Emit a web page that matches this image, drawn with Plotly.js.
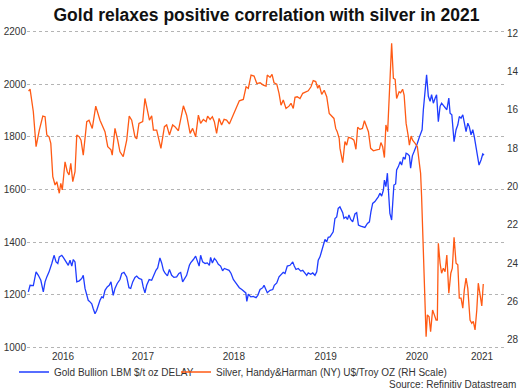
<!DOCTYPE html>
<html>
<head>
<meta charset="utf-8">
<script src="https://cdn.plot.ly/plotly-3.0.1.min.js"></script>
<style>html,body{margin:0;padding:0;background:#fff;}#chart{width:524px;height:392px;}</style>
</head>
<body>
<div id="chart"></div>
<script>
// Gold Bullion LBM $/t oz (left axis)
const goldDates = [
"2016-03-20","2016-03-27","2016-04-09","2016-04-20","2016-04-29","2016-05-09","2016-05-19","2016-05-26","2016-06-02","2016-06-11",
"2016-06-22","2016-07-01","2016-07-09","2016-07-16","2016-07-22","2016-08-01","2016-08-07","2016-08-14","2016-08-21","2016-08-27",
"2016-09-03","2016-09-10","2016-09-16","2016-09-23","2016-09-30","2016-10-10","2016-10-20","2016-10-26","2016-11-02","2016-11-09",
"2016-11-15","2016-11-22","2016-11-29","2016-12-05","2016-12-12","2016-12-19","2016-12-25",
"2017-01-01","2017-01-08","2017-01-14","2017-01-21","2017-01-30","2017-02-07","2017-02-14","2017-02-23","2017-03-02","2017-03-11",
"2017-03-22","2017-03-29","2017-04-07","2017-04-18","2017-04-27","2017-05-04","2017-05-12","2017-05-21","2017-05-28","2017-06-06",
"2017-06-17","2017-06-23","2017-06-30","2017-07-07","2017-07-17","2017-07-27","2017-08-03","2017-08-13","2017-08-20","2017-08-29",
"2017-09-05","2017-09-12","2017-09-18","2017-09-28","2017-10-06","2017-10-15","2017-10-24","2017-11-04","2017-11-13","2017-11-20",
"2017-11-28","2017-12-08","2017-12-14","2017-12-25","2017-12-30",
"2018-01-10","2018-01-19","2018-01-27","2018-02-02","2018-02-08","2018-02-16","2018-02-26","2018-03-07","2018-03-15","2018-03-20",
"2018-03-27","2018-04-04","2018-04-11","2018-04-20","2018-04-29","2018-05-07","2018-05-14","2018-05-23","2018-06-02","2018-06-10",
"2018-06-19","2018-06-26","2018-07-05","2018-07-13","2018-07-23","2018-08-01","2018-08-08","2018-08-12","2018-08-18","2018-08-28",
"2018-09-07","2018-09-18","2018-09-25","2018-10-04","2018-10-15","2018-10-20","2018-10-28","2018-11-02","2018-11-13","2018-11-24",
"2018-11-30","2018-12-10","2018-12-19","2018-12-27",
"2019-01-05","2019-01-12","2019-01-21","2019-02-01","2019-02-12","2019-02-18","2019-02-25","2019-03-06","2019-03-16","2019-03-24",
"2019-03-30","2019-04-09","2019-04-15","2019-04-25","2019-05-03","2019-05-12","2019-05-19","2019-05-25","2019-06-01","2019-06-08",
"2019-06-14","2019-06-21","2019-06-28","2019-07-04","2019-07-11","2019-07-18","2019-07-24","2019-07-31","2019-08-07","2019-08-13",
"2019-08-20","2019-08-31","2019-09-05","2019-09-13","2019-09-19","2019-09-25","2019-10-02","2019-10-10","2019-10-19","2019-10-26",
"2019-11-02","2019-11-11","2019-11-19","2019-11-28","2019-12-08","2019-12-16","2019-12-22","2019-12-29",
"2020-01-07","2020-01-14","2020-01-21","2020-01-27","2020-02-03","2020-02-10","2020-02-14","2020-02-20","2020-02-26","2020-03-01",
"2020-03-07","2020-03-14","2020-03-18","2020-03-23","2020-03-30","2020-04-03","2020-04-10","2020-04-17","2020-04-23","2020-04-30",
"2020-05-07","2020-05-11","2020-05-17","2020-05-24","2020-05-29","2020-06-05","2020-06-12","2020-06-18","2020-06-25","2020-07-03",
"2020-07-08","2020-07-14","2020-07-19","2020-07-26","2020-08-01","2020-08-08","2020-08-15","2020-08-21","2020-08-28","2020-09-04",
"2020-09-10","2020-09-17","2020-09-24","2020-09-30","2020-10-10","2020-10-21","2020-10-29","2020-11-03","2020-11-10","2020-11-19",
"2020-11-27","2020-12-04","2020-12-10","2020-12-17","2020-12-24","2020-12-30",
"2021-01-06","2021-01-13","2021-01-19","2021-01-26","2021-02-02","2021-02-08","2021-02-15","2021-02-22","2021-02-27","2021-03-07",
"2021-03-14","2021-03-19"
];
const goldValues = [
1211,1236,1235,1287,1274,1255,1211,1249,1268,1287,
1319,1350,1325,1319,1344,1350,1342,1331,1325,1312,
1331,1309,1334,1325,1249,1253,1262,1274,1224,1198,
1179,1173,1166,1147,1128,1141,1160,
1179,1192,1189,1217,1230,1236,1249,1198,1224,1243,
1258,1281,1285,1268,1227,1224,1249,1266,1271,1262,
1258,1230,1207,1236,1258,1255,1274,1293,1302,1340,
1321,1293,1283,1272,1296,1274,1266,1268,1281,1285,
1249,1262,1274,1312,1321,
1334,1347,1325,1309,1350,1325,1319,1321,1312,1342,
1321,1338,1331,1316,1309,1291,1300,1296,1293,1281,
1258,1249,1236,1227,1220,1211,1207,1175,1202,1192,
1194,1189,1198,1220,1227,1236,1220,1208,1217,1220,
1236,1245,1268,1278,
1285,1281,1309,1312,1325,1309,1296,1300,1290,1293,
1287,1274,1283,1278,1283,1274,1287,1331,1344,1370,
1392,1410,1401,1418,1420,1433,1439,1490,1496,1528,
1534,1512,1490,1496,1486,1503,1486,1477,1507,1512,
1465,1461,1458,1456,1471,1477,1515,1547,
1554,1563,1573,1586,1575,1598,1636,1611,1662,1598,
1509,1484,1547,1617,1621,1674,1687,1706,1693,1723,
1715,1738,1735,1728,1681,1728,1744,1757,1776,1799,
1811,1827,1903,1992,2036,1954,1935,1960,1928,1947,
1960,1858,1916,1928,1916,1903,1947,1890,1884,1782,
1827,1846,1877,1871,1884,1846,
1820,1852,1839,1808,1827,1801,1763,1725,1693,1712,
1735,1731
];

// Silver, Handy&Harman (NY) U$/Troy OZ (right axis, inverted)
const silverDates = [
"2016-03-21","2016-03-27","2016-04-09","2016-04-20","2016-05-03","2016-05-17","2016-05-26","2016-06-02","2016-06-11","2016-06-18",
"2016-06-26","2016-07-05","2016-07-12","2016-07-18","2016-07-22","2016-07-28","2016-08-03","2016-08-14","2016-08-23","2016-08-30",
"2016-09-06","2016-09-14","2016-09-23","2016-09-30","2016-10-10","2016-10-17","2016-10-26","2016-11-09","2016-11-18","2016-12-01",
"2016-12-15",
"2017-01-01","2017-01-14","2017-01-21","2017-02-01","2017-02-14","2017-02-19","2017-03-02","2017-03-13","2017-03-22","2017-04-04",
"2017-04-18","2017-04-28","2017-05-08","2017-05-21","2017-05-28","2017-06-06","2017-06-21","2017-06-30","2017-07-10","2017-07-18",
"2017-07-27","2017-08-03","2017-08-16","2017-08-27","2017-09-02","2017-09-16","2017-09-25","2017-10-06","2017-10-19","2017-10-28",
"2017-11-11","2017-12-01","2017-12-14","2017-12-28",
"2018-01-07","2018-01-19","2018-01-30","2018-02-08","2018-02-19","2018-03-02","2018-03-08","2018-03-18","2018-03-27","2018-04-04",
"2018-04-13","2018-04-23","2018-05-03","2018-05-13","2018-05-23","2018-06-03","2018-06-19","2018-07-02","2018-07-13","2018-07-29",
"2018-08-09","2018-08-18","2018-08-29","2018-09-10","2018-09-21","2018-10-04","2018-10-17","2018-10-28","2018-11-02","2018-11-13",
"2018-11-21","2018-11-29","2018-12-10","2018-12-19","2018-12-27",
"2019-01-05","2019-01-16","2019-01-28","2019-02-05","2019-02-14","2019-02-21","2019-03-02","2019-03-13","2019-03-24","2019-04-06",
"2019-04-15","2019-04-26","2019-05-05","2019-05-15","2019-05-23","2019-05-29","2019-06-08","2019-06-18","2019-06-28","2019-07-08",
"2019-07-18","2019-07-27","2019-08-03","2019-08-09","2019-08-17","2019-08-20","2019-08-31","2019-09-09","2019-09-16","2019-09-23",
"2019-10-06","2019-10-15","2019-10-23","2019-10-30","2019-11-08","2019-11-18","2019-11-26","2019-12-05","2019-12-12","2019-12-21",
"2020-01-01","2020-01-14","2020-01-25","2020-01-31","2020-02-07","2020-02-14","2020-02-20","2020-02-27","2020-03-05","2020-03-14",
"2020-03-21","2020-03-28","2020-04-03","2020-04-13","2020-04-19","2020-04-27","2020-05-03","2020-05-11","2020-05-20","2020-05-24",
"2020-05-31","2020-06-06","2020-06-16","2020-06-25","2020-07-03","2020-07-08","2020-07-12","2020-07-16","2020-07-22","2020-07-26",
"2020-07-30","2020-08-04","2020-08-11","2020-08-17","2020-08-25","2020-09-01","2020-09-08","2020-09-13","2020-09-17","2020-09-24",
"2020-09-30","2020-10-07","2020-10-14","2020-10-21","2020-10-29","2020-11-06","2020-11-12","2020-11-19","2020-11-27","2020-12-04",
"2020-12-10","2020-12-17","2020-12-24","2020-12-30",
"2021-01-06","2021-01-13","2021-01-22","2021-01-29","2021-02-04","2021-02-11","2021-02-18","2021-02-24","2021-03-03","2021-03-10",
"2021-03-16"
];
const silverValues = [
15.03,14.92,16.10,17.92,17.06,16.33,16.36,17.31,17.41,17.75,
19.49,19.92,19.75,20.18,20.35,19.83,20.18,18.71,19.23,19.40,
18.79,19.75,19.23,17.31,17.41,17.58,18.36,16.62,16.54,16.97,
15.81,
16.54,16.97,17.14,17.92,18.09,18.36,16.97,17.58,18.19,18.44,
17.58,16.33,16.54,17.41,17.52,16.71,16.62,15.41,16.10,16.54,
16.31,17.06,17.06,17.75,18.01,16.88,16.79,17.31,16.79,16.88,
17.09,15.79,16.28,17.23,
16.97,17.41,16.28,16.71,16.50,16.62,16.33,16.50,16.36,16.62,
17.23,16.45,16.79,16.50,16.54,16.74,16.28,15.93,15.53,15.46,
14.80,14.88,14.19,14.24,14.63,14.59,14.71,14.76,14.19,14.31,
14.15,14.59,14.66,15.14,15.76,
15.49,15.93,15.81,15.66,15.93,15.35,15.32,15.41,15.14,15.06,
15.01,14.80,14.48,14.53,14.88,14.71,15.20,14.98,15.32,16.19,
16.33,16.45,16.97,17.14,17.49,18.00,18.76,17.66,17.84,17.44,
17.49,17.58,18.06,16.91,17.02,16.97,16.57,16.88,17.14,18.01,
18.14,18.09,18.06,17.71,17.92,18.49,16.79,17.14,15.32,12.53,
14.36,14.41,15.41,15.06,15.11,14.93,15.23,16.71,17.41,17.84,
17.37,17.58,17.75,17.92,18.79,19.31,20.53,22.27,24.00,25.74,
27.83,26.69,26.79,27.57,26.44,26.69,26.96,26.96,22.96,24.00,
24.52,24.26,24.44,23.57,25.56,24.52,24.26,22.65,24.00,24.08,
25.82,25.82,26.34,25.39,
24.78,25.31,26.96,27.13,27.03,27.47,26.44,25.04,25.56,26.22,
25.08
];

const yearTickDates = ["2016-08-06","2017-06-22","2018-06-21","2019-06-24","2020-06-23","2021-03-11"];
const yearTickLabels = ["2016","2017","2018","2019","2020","2021"];
const goldTicks = [1000,1200,1400,1600,1800,2000,2200];
const silverTicks = [12,14,16,18,20,22,24,26,28];

const FONT = "Liberation Sans, Arial, sans-serif";
const BLUE = "#1f3cff";
const ORANGE = "#ff5a14";

const traces = [
  {x: goldDates, y: goldValues, type: "scatter", mode: "lines", name: "Gold Bullion LBM $/t oz DELAY",
   line: {color: BLUE, width: 1.3}, yaxis: "y", legend: "legend"},
  {x: silverDates, y: silverValues, type: "scatter", mode: "lines", name: "Silver, Handy&Harman (NY) U$/Troy OZ (RH Scale)",
   line: {color: ORANGE, width: 1.3}, yaxis: "y2", legend: "legend2"}
];

const legendStyle = {orientation: "h", xref: "container", xanchor: "left", yref: "container", yanchor: "middle",
  y: 0.051, font: {family: FONT, size: 10, color: "#333333"}, bgcolor: "rgba(0,0,0,0)", borderwidth: 0, itemwidth: 30};

const layout = {
  width: 524, height: 392,
  margin: {l: 27, r: 18, t: 30, b: 43, pad: 0},
  paper_bgcolor: "#ffffff", plot_bgcolor: "#ffffff",
  font: {family: FONT, size: 10, color: "#333333"},
  title: {text: "Gold relaxes positive correlation with silver in 2021",
          font: {family: FONT, size: 17.5, color: "#111111", weight: 700},
          x: 0.5, xanchor: "center", xref: "paper", y: 0.963, yanchor: "middle", yref: "container"},
  showlegend: true,
  legend: Object.assign({}, legendStyle, {x: 14 / 524}),
  legend2: Object.assign({}, legendStyle, {x: 176 / 524}),
  xaxis: {type: "date", range: ["2016-03-14 16:00", "2021-06-15"],
          tickmode: "array", tickvals: yearTickDates, ticktext: yearTickLabels,
          showgrid: false, zeroline: false, showline: false, ticks: "",
          tickfont: {family: FONT, size: 10, color: "#333333"}},
  yaxis: {range: [994, 2206], tickmode: "array", tickvals: goldTicks,
          showgrid: true, gridcolor: "#b4b4b4", griddash: "dot", gridwidth: 1,
          zeroline: false, showline: false, ticks: "",
          tickfont: {family: FONT, size: 10, color: "#333333"}},
  yaxis2: {range: [28.47, 11.84], overlaying: "y", side: "right", tickmode: "array", tickvals: silverTicks,
           showgrid: false, zeroline: false, showline: false, ticks: "",
           tickfont: {family: FONT, size: 10, color: "#333333"}},
  annotations: [
    {text: "Source: Refinitiv Datastream", xref: "paper", yref: "paper", x: 1.026, y: -0.11,
     xanchor: "right", yanchor: "middle", showarrow: false, font: {family: FONT, size: 10, color: "#333333"}}
  ]
};

Plotly.newPlot("chart", traces, layout, {staticPlot: true, displayModeBar: false});
</script>
</body>
</html>
